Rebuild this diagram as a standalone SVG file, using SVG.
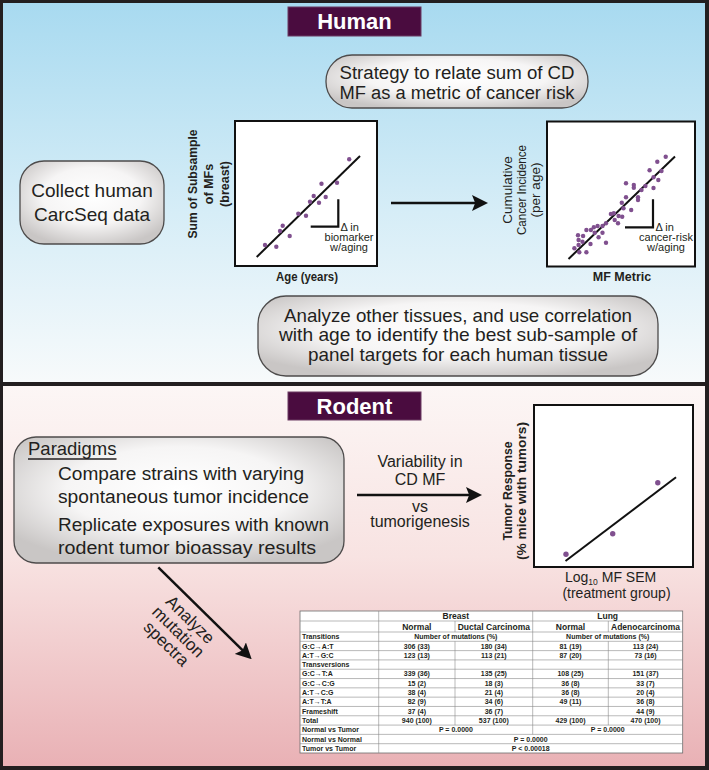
<svg xmlns="http://www.w3.org/2000/svg" width="709" height="770" viewBox="0 0 709 770">
<defs>
<linearGradient id="gTop" x1="0" y1="0" x2="0" y2="1">
<stop offset="0" stop-color="#a8daf0"/>
<stop offset="0.55" stop-color="#d6edf7"/>
<stop offset="1" stop-color="#f7fafb"/>
</linearGradient>
<linearGradient id="gBot" x1="0" y1="0" x2="0" y2="1">
<stop offset="0" stop-color="#fcf6f5"/>
<stop offset="0.45" stop-color="#f8e3e2"/>
<stop offset="1" stop-color="#e9b1b5"/>
</linearGradient>
<radialGradient id="gBox" cx="50%" cy="42%" r="62%">
<stop offset="0" stop-color="#ffffff"/>
<stop offset="0.55" stop-color="#f6f5f5"/>
<stop offset="1" stop-color="#c9c6c5"/>
</radialGradient>
<marker id="ah" viewBox="0 0 10 10" refX="5" refY="5" markerWidth="16" markerHeight="16" markerUnits="userSpaceOnUse" orient="auto">
<path d="M0,0 L10,5 L0,10 L2,5 z" fill="#111"/>
</marker>
<style>
.hdbox{fill:#4a0c3f;stroke:#6b3a62;stroke-width:1}
.hd{font-family:"Liberation Sans",Arial,sans-serif;font-weight:bold;font-size:22px;fill:#ffffff;text-anchor:middle}
.box{fill:url(#gBox);stroke:#4d4b4b;stroke-width:1.3}
.bt{font-family:"Liberation Sans",Arial,sans-serif;fill:#231f20;text-anchor:middle}
.frame{fill:#ffffff;stroke:#111;stroke-width:2}
.reg{stroke:#111;stroke-width:2;fill:none}
.brk{stroke:#111;stroke-width:2.2;fill:none}
.dot{fill:#80508f}
.lab{font-family:"Liberation Sans",Arial,sans-serif;fill:#231f20;text-anchor:middle}
.sm{font-family:"Liberation Sans",Arial,sans-serif;font-size:11px;fill:#231f20}
.conn{stroke:#111;stroke-width:2.5;fill:none;marker-end:url(#ah)}
.tg{stroke:#8a8a8a;stroke-width:0.6;fill:none}
.tt{font-family:"Liberation Sans",Arial,sans-serif;font-weight:bold;font-size:7px;fill:#231f20}
.tc{text-anchor:middle}
.th{font-size:8.5px}
</style>
</defs>

<!-- background & panels -->
<rect x="0" y="0" width="709" height="770" fill="#231f20"/>
<rect x="3" y="3" width="702" height="379" fill="url(#gTop)"/>
<rect x="3" y="386" width="702" height="380" fill="url(#gBot)"/>

<!-- ===== HUMAN ===== -->
<g id="human-header">
<rect class="hdbox" x="288" y="7" width="133" height="29"/>
<text class="hd" x="354.5" y="29">Human</text>
</g>

<g id="strategy">
<rect class="box" x="326" y="55" width="262" height="53" rx="26" ry="26"/>
<text class="bt" x="457" y="79" font-size="18" textLength="235" lengthAdjust="spacingAndGlyphs">Strategy to relate sum of CD</text>
<text class="bt" x="457" y="99" font-size="18" textLength="235" lengthAdjust="spacingAndGlyphs">MF as a metric of cancer risk</text>
</g>

<g id="collect">
<rect class="box" x="20" y="161" width="144" height="83" rx="24" ry="24"/>
<text class="bt" x="92" y="197" font-size="19">Collect human</text>
<text class="bt" x="92" y="221" font-size="19">CarcSeq data</text>
</g>

<g id="plot-biomarker">
<rect class="frame" x="235" y="121" width="142" height="145"/>
<line class="reg" x1="256.7" y1="257" x2="360" y2="156"/>
<g class="dot">
<circle cx="349.2" cy="159.3" r="2.2"/><circle cx="321.5" cy="183.8" r="2.2"/><circle cx="337" cy="182.7" r="2.2"/>
<circle cx="313.7" cy="196" r="2.2"/><circle cx="325.7" cy="197" r="2.2"/><circle cx="310" cy="201.7" r="2.2"/>
<circle cx="319" cy="202.7" r="2.2"/><circle cx="298.3" cy="213.7" r="2.2"/><circle cx="306" cy="215.7" r="2.2"/>
<circle cx="282.7" cy="225.7" r="2.2"/><circle cx="280" cy="231" r="2.2"/><circle cx="289.7" cy="236" r="2.2"/>
<circle cx="265" cy="245" r="2.2"/><circle cx="276.3" cy="246.7" r="2.2"/>
</g>
<path class="brk" d="M310.7,226.7 H338.3 V199.3"/>
<text class="sm" x="340.5" y="230.5">Δ in</text>
<text class="sm" x="349" y="240.5" text-anchor="middle">biomarker</text>
<text class="sm" x="349" y="250.5" text-anchor="middle">w/aging</text>
<text class="lab" font-weight="bold" font-size="12.5" transform="translate(197,184) rotate(-90)" textLength="109" lengthAdjust="spacingAndGlyphs">Sum of Subsample</text>
<text class="lab" font-weight="bold" font-size="12.5" transform="translate(213,184) rotate(-90)">of MFs</text>
<text class="lab" font-weight="bold" font-size="12.5" transform="translate(229,184) rotate(-90)">(breast)</text>
<text class="lab" font-weight="bold" font-size="12.5" x="307" y="281" textLength="62" lengthAdjust="spacingAndGlyphs">Age (years)</text>
</g>

<g id="plot-cancer">
<rect class="frame" x="547" y="121.5" width="148" height="145"/>
<line class="reg" x1="568.5" y1="259" x2="675" y2="156.5"/>
<g class="dot">
<circle cx="665.7" cy="156.7" r="2.2"/><circle cx="657.3" cy="161.7" r="2.2"/><circle cx="661.5" cy="171" r="2.2"/>
<circle cx="649.6" cy="170.3" r="2.2"/><circle cx="653.5" cy="177.3" r="2.2"/><circle cx="658.3" cy="180" r="2.2"/>
<circle cx="653.5" cy="188" r="2.2"/><circle cx="645.4" cy="186" r="2.2"/><circle cx="641.5" cy="190" r="2.2"/>
<circle cx="633.8" cy="185" r="2.2"/><circle cx="633.8" cy="187.7" r="2.2"/><circle cx="626" cy="183.3" r="2.2"/>
<circle cx="638" cy="197.3" r="2.2"/><circle cx="638" cy="200" r="2.2"/><circle cx="626" cy="197.3" r="2.2"/>
<circle cx="621.8" cy="202.7" r="2.2"/><circle cx="631.2" cy="210" r="2.2"/><circle cx="623.5" cy="208.3" r="2.2"/>
<circle cx="613.8" cy="213.3" r="2.2"/><circle cx="610.9" cy="214" r="2.2"/><circle cx="618.6" cy="216" r="2.2"/>
<circle cx="622.2" cy="216.7" r="2.2"/><circle cx="618" cy="223.3" r="2.2"/><circle cx="614.7" cy="220" r="2.2"/>
<circle cx="606" cy="223.3" r="2.2"/><circle cx="602.5" cy="226" r="2.2"/><circle cx="597.6" cy="226" r="2.2"/>
<circle cx="593.8" cy="227.3" r="2.2"/><circle cx="590.9" cy="230" r="2.2"/><circle cx="586.4" cy="230" r="2.2"/>
<circle cx="602.5" cy="232.7" r="2.2"/><circle cx="598.6" cy="237.3" r="2.2"/><circle cx="594.7" cy="232.7" r="2.2"/>
<circle cx="583.1" cy="236" r="2.2"/><circle cx="578" cy="235.3" r="2.2"/><circle cx="578.6" cy="240" r="2.2"/>
<circle cx="582.5" cy="241.7" r="2.2"/><circle cx="574.4" cy="248.3" r="2.2"/><circle cx="578.6" cy="245" r="2.2"/>
<circle cx="590.5" cy="244" r="2.2"/><circle cx="606" cy="242.7" r="2.2"/><circle cx="586.4" cy="252.3" r="2.2"/>
<circle cx="579.3" cy="252.3" r="2.2"/>
</g>
<path class="brk" d="M625,227.3 H653 V199.3"/>
<text class="sm" x="655.5" y="231">Δ in</text>
<text class="sm" x="666" y="241" text-anchor="middle">cancer-risk</text>
<text class="sm" x="666" y="251" text-anchor="middle">w/aging</text>
<text class="lab" font-size="13.5" transform="translate(512,190) rotate(-90)">Cumulative</text>
<text class="lab" font-size="13.5" transform="translate(526,190) rotate(-90)" textLength="90" lengthAdjust="spacingAndGlyphs">Cancer Incidence</text>
<text class="lab" font-size="13.5" transform="translate(540,190) rotate(-90)">(per age)</text>
<text class="lab" font-weight="bold" font-size="12.5" x="622" y="281">MF Metric</text>
</g>

<g id="analyze-tissues">
<rect class="box" x="258" y="296" width="400" height="80" rx="28" ry="28"/>
<text class="bt" x="458" y="321.5" font-size="19" textLength="348" lengthAdjust="spacingAndGlyphs">Analyze other tissues, and use correlation</text>
<text class="bt" x="458" y="341" font-size="19" textLength="358" lengthAdjust="spacingAndGlyphs">with age to identify the best sub-sample of</text>
<text class="bt" x="458" y="360.5" font-size="19" textLength="300" lengthAdjust="spacingAndGlyphs">panel targets for each human tissue</text>
</g>

<!-- ===== RODENT ===== -->
<g id="rodent-header">
<rect class="hdbox" x="288" y="392" width="133" height="28"/>
<text class="hd" x="354.5" y="413.5">Rodent</text>
</g>

<g id="paradigms">
<rect class="box" x="14" y="437" width="330" height="126" rx="22" ry="22"/>
<text class="bt" x="28" y="455" font-size="18.5" style="text-anchor:start">Paradigms</text>
<line x1="28" y1="459" x2="116.5" y2="459" stroke="#231f20" stroke-width="1.3"/>
<text class="bt" x="58" y="480" font-size="18" style="text-anchor:start" textLength="246" lengthAdjust="spacingAndGlyphs">Compare strains with varying</text>
<text class="bt" x="58" y="503" font-size="18" style="text-anchor:start" textLength="251" lengthAdjust="spacingAndGlyphs">spontaneous tumor incidence</text>
<text class="bt" x="58" y="531" font-size="18" style="text-anchor:start" textLength="271" lengthAdjust="spacingAndGlyphs">Replicate exposures with known</text>
<text class="bt" x="58" y="554" font-size="18" style="text-anchor:start" textLength="258" lengthAdjust="spacingAndGlyphs">rodent tumor bioassay results</text>
</g>

<g id="arrow-label">
<text class="bt" x="420" y="467" font-size="16">Variability in</text>
<text class="bt" x="420" y="485" font-size="16">CD MF</text>
<text class="bt" x="420" y="511.5" font-size="16">vs</text>
<text class="bt" x="420" y="527" font-size="16">tumorigenesis</text>
</g>

<g id="plot-tumor">
<rect class="frame" x="534" y="405" width="159" height="162"/>
<line class="reg" x1="565.5" y1="561" x2="676" y2="477.3"/>
<g class="dot">
<circle cx="566" cy="554.3" r="2.7"/><circle cx="612.7" cy="533.8" r="2.7"/><circle cx="657.8" cy="482.7" r="2.7"/>
</g>
<text class="lab" font-weight="bold" font-size="12.5" transform="translate(512,491) rotate(-90)" textLength="99" lengthAdjust="spacingAndGlyphs">Tumor Response</text>
<text class="lab" font-weight="bold" font-size="12.5" transform="translate(526,491) rotate(-90)" textLength="138" lengthAdjust="spacingAndGlyphs">(% mice with tumors)</text>
<text class="lab" font-size="14" x="565" y="582" style="text-anchor:start">Log<tspan font-size="8.5" dy="2.5">10</tspan><tspan dy="-2.5"> MF SEM</tspan></text>
<text class="lab" font-size="14" x="616.5" y="597.5">(treatment group)</text>
</g>

<g id="analyze-spectra">
<g transform="translate(178.5,631.5) rotate(44.6)">
<text class="bt" x="0" y="-11" font-size="17">Analyze</text>
<text class="bt" x="0" y="6" font-size="17">mutation</text>
<text class="bt" x="0" y="23" font-size="17">spectra</text>
</g>
</g>

<!-- connectors -->
<g id="connectors">
<line class="conn" x1="391" y1="203" x2="480" y2="203"/>
<line class="conn" x1="357" y1="495" x2="474" y2="495"/>
<line class="conn" x1="158.3" y1="567.3" x2="246" y2="653.7"/>
</g>

<!-- ===== TABLE ===== -->
<g id="table">
<rect x="300" y="611" width="382.7" height="142" fill="#ffffff" stroke="#6d6d6d" stroke-width="0.8"/>
<g class="tg">
<path d="M300,621H682.7 M300,632H682.7 M300,641.31H682.7 M300,650.62H682.7 M300,659.92H682.7 M300,669.23H682.7 M300,678.54H682.7 M300,687.85H682.7 M300,697.15H682.7 M300,706.46H682.7 M300,715.77H682.7 M300,725.08H682.7 M300,734.38H682.7 M300,743.69H682.7"/>
<path d="M378.7,611V753 M532.7,611V734.38 M455,621V632 M608.3,621V632 M455,641.31V725.08 M608.3,641.31V725.08"/>
</g>
<g class="tt">
<text class="tc th" x="455.85" y="619">Breast</text>
<text class="tc th" x="607.7" y="619">Lung</text>
<text class="tc th" x="416.85" y="629.6">Normal</text>
<text class="tc th" x="493.85" y="629.6">Ductal Carcinoma</text>
<text class="tc th" x="570.5" y="629.6">Normal</text>
<text class="tc th" x="645.5" y="629.6">Adenocarcinoma</text>

<text x="302" y="639.2">Transitions</text>
<text class="tc" x="455.85" y="639.2">Number of mutations (%)</text>
<text class="tc" x="607.7" y="639.2">Number of mutations (%)</text>

<text x="302" y="648.5">G:C→A:T</text>
<text class="tc" x="416.85" y="648.5">306 (33)</text><text class="tc" x="493.85" y="648.5">180 (34)</text><text class="tc" x="570.5" y="648.5">81 (19)</text><text class="tc" x="645.5" y="648.5">113 (24)</text>

<text x="302" y="657.8">A:T→G:C</text>
<text class="tc" x="416.85" y="657.8">123 (13)</text><text class="tc" x="493.85" y="657.8">113 (21)</text><text class="tc" x="570.5" y="657.8">87 (20)</text><text class="tc" x="645.5" y="657.8">73 (16)</text>

<text x="302" y="667.1">Transversions</text>

<text x="302" y="676.4">G:C→T:A</text>
<text class="tc" x="416.85" y="676.4">339 (36)</text><text class="tc" x="493.85" y="676.4">135 (25)</text><text class="tc" x="570.5" y="676.4">108 (25)</text><text class="tc" x="645.5" y="676.4">151 (37)</text>

<text x="302" y="685.7">G:C→C:G</text>
<text class="tc" x="416.85" y="685.7">15 (2)</text><text class="tc" x="493.85" y="685.7">18 (3)</text><text class="tc" x="570.5" y="685.7">36 (8)</text><text class="tc" x="645.5" y="685.7">33 (7)</text>

<text x="302" y="695">A:T→C:G</text>
<text class="tc" x="416.85" y="695">38 (4)</text><text class="tc" x="493.85" y="695">21 (4)</text><text class="tc" x="570.5" y="695">36 (8)</text><text class="tc" x="645.5" y="695">20 (4)</text>

<text x="302" y="704.3">A:T→T:A</text>
<text class="tc" x="416.85" y="704.3">82 (9)</text><text class="tc" x="493.85" y="704.3">34 (6)</text><text class="tc" x="570.5" y="704.3">49 (11)</text><text class="tc" x="645.5" y="704.3">36 (8)</text>

<text x="302" y="713.6">Frameshift</text>
<text class="tc" x="416.85" y="713.6">37 (4)</text><text class="tc" x="493.85" y="713.6">36 (7)</text><text class="tc" x="645.5" y="713.6">44 (9)</text>

<text x="302" y="722.9">Total</text>
<text class="tc" x="416.85" y="722.9">940 (100)</text><text class="tc" x="493.85" y="722.9">537 (100)</text><text class="tc" x="570.5" y="722.9">429 (100)</text><text class="tc" x="645.5" y="722.9">470 (100)</text>

<text x="302" y="732.2">Normal vs Tumor</text>
<text class="tc" x="455.85" y="732.2">P = 0.0000</text><text class="tc" x="607.7" y="732.2">P = 0.0000</text>

<text x="302" y="741.5">Normal vs Normal</text>
<text class="tc" x="530.7" y="741.5">P = 0.0000</text>

<text x="302" y="750.8">Tumor vs Tumor</text>
<text class="tc" x="530.7" y="750.8">P &lt; 0.00018</text>
</g>
</g>
</svg>
